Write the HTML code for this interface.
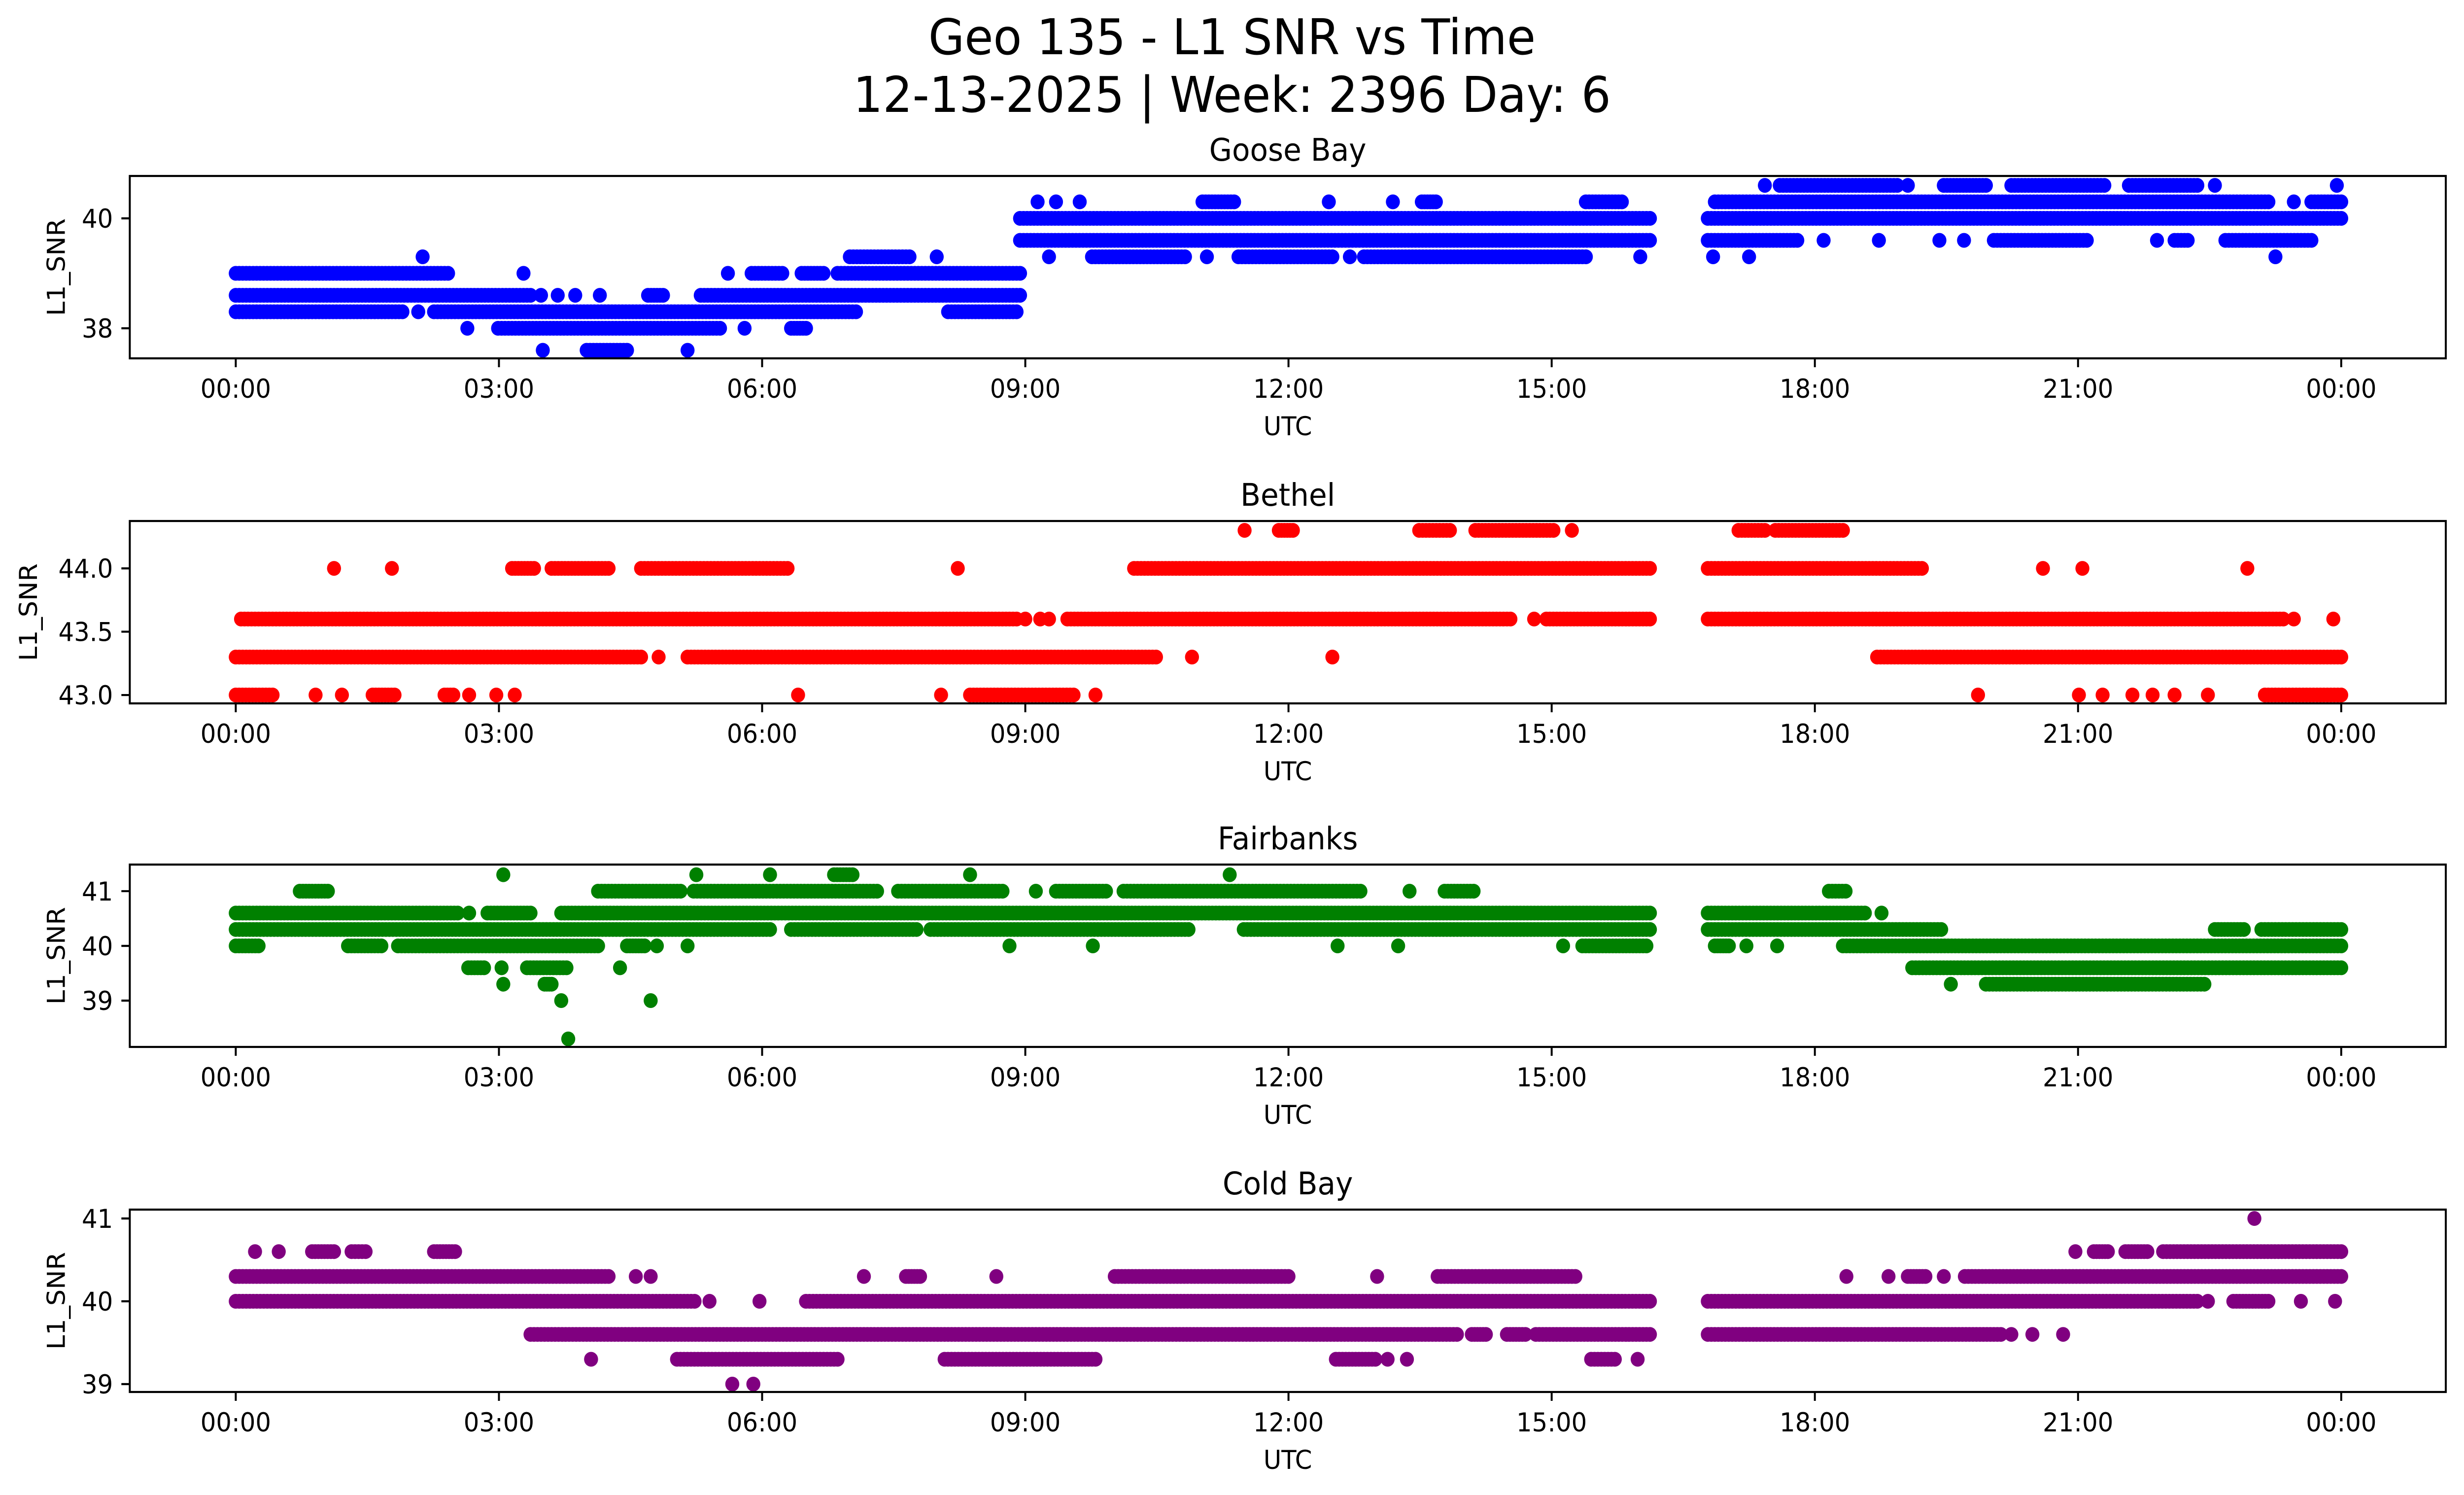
<!DOCTYPE html>
<html><head><meta charset="utf-8"><title>Geo 135 - L1 SNR vs Time</title>
<style>
html,body{margin:0;padding:0;background:#fff;overflow:hidden;width:100%;height:100%;}
svg{display:block;width:100vw;height:100vh;font-family:"DejaVu Sans","Liberation Sans",sans-serif;}
</style></head>
<body>
<svg id="chart" viewBox="0 0 5278 3033" preserveAspectRatio="none" xmlns="http://www.w3.org/2000/svg">
<rect width="5278" height="3033" fill="#fff"/>
<text x="2639" y="110" font-size="100" text-anchor="middle">Geo 135 - L1 SNR vs Time</text>
<text x="2639" y="227" font-size="100" text-anchor="middle">12-13-2025 | Week: 2396 Day: 6</text>
</svg>
<script>
// x-axis ticks (hours) and labels
const xTickHours = [0,3,6,9,12,15,18,21,24];
const xTickLabels = ["00:00","03:00","06:00","09:00","12:00","15:00","18:00","21:00","00:00"];

// station names and y ranges
const stationNames = ["Goose Bay","Bethel","Fairbanks","Cold Bay"];
const stationColors = ["#0000ff","#ff0000","#008000","#800080"];
const yDomains = [[37.453,40.771],[42.934,44.374],[38.153,41.486],[38.905,41.107]];
const yTicks = [[38,40],[43.0,43.5,44.0],[39,40,41],[39,40,41]];
const yTickLabels = [["38","40"],["43.0","43.5","44.0"],["39","40","41"],["39","40","41"]];

// runs of observations: [SNR, startHour, endHour]
const gooseBay = [
[39.0,0.0,2.42],[39.0,3.28,3.28],[39.0,5.61,5.61],[39.0,5.88,6.23],[39.0,6.45,6.7],[39.0,6.86,8.94],
[39.3,2.13,2.13],[39.3,7.0,7.68],[39.3,7.99,7.99],[39.3,9.27,9.27],[39.3,9.76,10.82],[39.3,11.07,11.07],[39.3,11.43,12.5],[39.3,12.7,12.7],[39.3,12.86,15.39],[39.3,16.01,16.01],[39.3,16.84,16.84],[39.3,17.25,17.25],[39.3,23.25,23.25],
[38.6,0.0,3.36],[38.6,3.48,3.48],[38.6,3.67,3.67],[38.6,3.87,3.87],[38.6,4.15,4.15],[38.6,4.7,4.87],[38.6,5.3,8.94],
[38.3,0.0,1.9],[38.3,2.08,2.08],[38.3,2.26,7.07],[38.3,8.12,8.9],
[38.0,2.64,2.64],[38.0,2.99,5.52],[38.0,5.8,5.8],[38.0,6.33,6.5],
[37.6,3.5,3.5],[37.6,4.0,4.46],[37.6,5.15,5.15],
[39.6,8.94,16.12],[39.6,16.78,17.8],[39.6,18.1,18.1],[39.6,18.73,18.73],[39.6,19.42,19.42],[39.6,19.7,19.7],[39.6,20.04,21.1],[39.6,21.9,21.9],[39.6,22.1,22.25],[39.6,22.68,23.66],
[40.0,8.94,16.12],[40.0,16.78,24.0],
[40.3,9.14,9.14],[40.3,9.35,9.35],[40.3,9.62,9.62],[40.3,11.02,11.38],[40.3,12.46,12.46],[40.3,13.19,13.19],[40.3,13.52,13.68],[40.3,15.39,15.8],[40.3,16.86,23.17],[40.3,23.46,23.46],[40.3,23.66,24.0],
[40.6,17.43,17.43],[40.6,17.6,18.94],[40.6,19.06,19.06],[40.6,19.47,19.95],[40.6,20.24,21.3],[40.6,21.58,22.36],[40.6,22.56,22.56],[40.6,23.95,23.95]
];
const bethel = [
[43.0,0.0,0.42],[43.0,0.91,0.91],[43.0,1.21,1.21],[43.0,1.56,1.81],[43.0,2.38,2.48],[43.0,2.66,2.66],[43.0,2.97,2.97],[43.0,3.18,3.18],[43.0,6.41,6.41],[43.0,8.04,8.04],[43.0,8.37,9.55],[43.0,9.8,9.8],[43.0,19.86,19.86],[43.0,21.01,21.01],[43.0,21.28,21.28],[43.0,21.62,21.62],[43.0,21.85,21.85],[43.0,22.1,22.1],[43.0,22.48,22.48],[43.0,23.13,24.0],
[43.3,0.0,4.62],[43.3,4.82,4.82],[43.3,5.15,10.49],[43.3,10.9,10.9],[43.3,12.5,12.5],[43.3,18.71,24.0],
[43.6,0.06,8.9],[43.6,9.0,9.0],[43.6,9.17,9.17],[43.6,9.27,9.27],[43.6,9.48,14.53],[43.6,14.8,14.8],[43.6,14.94,16.12],[43.6,16.78,23.34],[43.6,23.46,23.46],[43.6,23.91,23.91],
[44.0,1.12,1.12],[44.0,1.78,1.78],[44.0,3.15,3.4],[44.0,3.6,4.25],[44.0,4.62,6.29],[44.0,8.23,8.23],[44.0,10.24,16.12],[44.0,16.78,19.22],[44.0,20.6,20.6],[44.0,21.05,21.05],[44.0,22.93,22.93],
[44.3,11.5,11.5],[44.3,11.89,12.05],[44.3,13.49,13.84],[44.3,14.13,15.02],[44.3,15.23,15.23],[44.3,17.13,17.43],[44.3,17.55,18.32]
];
const fairbanks = [
[41.3,3.05,3.05],[41.3,5.25,5.25],[41.3,6.09,6.09],[41.3,6.82,7.03],[41.3,8.37,8.37],[41.3,11.33,11.33],
[41.0,0.73,1.05],[41.0,4.13,5.07],[41.0,5.22,7.31],[41.0,7.55,8.74],[41.0,9.12,9.12],[41.0,9.35,9.92],[41.0,10.12,12.82],[41.0,13.38,13.38],[41.0,13.78,14.11],[41.0,18.16,18.35],
[40.6,0.0,2.53],[40.6,2.66,2.66],[40.6,2.87,3.36],[40.6,3.71,16.12],[40.6,16.78,18.57],[40.6,18.76,18.76],
[40.3,0.0,6.09],[40.3,6.33,7.76],[40.3,7.92,10.86],[40.3,11.49,16.12],[40.3,16.78,19.44],[40.3,22.56,22.89],[40.3,23.09,24.0],
[40.0,0.0,0.26],[40.0,1.28,1.66],[40.0,1.85,4.13],[40.0,4.46,4.66],[40.0,4.8,4.8],[40.0,5.15,5.15],[40.0,8.82,8.82],[40.0,9.77,9.77],[40.0,12.56,12.56],[40.0,13.25,13.25],[40.0,15.13,15.13],[40.0,15.35,16.08],[40.0,16.86,17.02],[40.0,17.22,17.22],[40.0,17.57,17.57],[40.0,18.32,24.0],
[39.6,2.65,2.83],[39.6,3.03,3.03],[39.6,3.32,3.77],[39.6,4.38,4.38],[39.6,19.11,24.0],
[39.3,3.05,3.05],[39.3,3.52,3.6],[39.3,19.55,19.55],[39.3,19.95,22.44],
[39.0,3.71,3.71],[39.0,4.73,4.73],
[38.3,3.79,3.79]
];
const coldBay = [
[41.0,23.01,23.01],
[40.6,0.22,0.22],[40.6,0.49,0.49],[40.6,0.87,1.12],[40.6,1.32,1.48],[40.6,2.26,2.5],[40.6,20.97,20.97],[40.6,21.18,21.34],[40.6,21.54,21.79],[40.6,21.97,24.0],
[40.3,0.0,4.25],[40.3,4.56,4.56],[40.3,4.73,4.73],[40.3,7.16,7.16],[40.3,7.64,7.8],[40.3,8.67,8.67],[40.3,10.02,12.0],[40.3,13.01,13.01],[40.3,13.7,15.27],[40.3,18.36,18.36],[40.3,18.84,18.84],[40.3,19.06,19.26],[40.3,19.47,19.47],[40.3,19.71,24.0],
[40.0,0.0,5.23],[40.0,5.4,5.4],[40.0,5.97,5.97],[40.0,6.5,16.12],[40.0,16.78,22.36],[40.0,22.48,22.48],[40.0,22.77,23.17],[40.0,23.54,23.54],[40.0,23.93,23.93],
[39.6,3.36,13.92],[39.6,14.09,14.25],[39.6,14.49,14.7],[39.6,14.82,16.12],[39.6,16.78,20.12],[39.6,20.24,20.24],[39.6,20.48,20.48],[39.6,20.83,20.83],
[39.3,4.05,4.05],[39.3,5.03,6.86],[39.3,8.08,9.8],[39.3,12.54,12.99],[39.3,13.13,13.13],[39.3,13.35,13.35],[39.3,15.45,15.72],[39.3,15.98,15.98],
[39.0,5.66,5.66],[39.0,5.9,5.9]
];
const stationRuns = [gooseBay, bethel, fairbanks, coldBay];

// layout
const NS = "http://www.w3.org/2000/svg";
const svg = document.getElementById("chart");
const AX_L = 278, AX_R = 5239, AX_H = 370;
const AX_TOPS = [357, 1057, 1754, 2454];
const YLABEL_X = [122, 62, 122, 122];
const X0 = 505, X24 = 5015;
const SAMPLE_STEP = 0.04;
function xScale(h){ return X0 + (X24 - X0) * h / 24; }
function yScale(p, v){ const d = yDomains[p]; const top = AX_TOPS[p]; return top + AX_H * (d[1] - v) / (d[1] - d[0]); }
function mk(tag, attrs){ const e = document.createElementNS(NS, tag); for (const k in attrs) e.setAttribute(k, attrs[k]); return e; }

stationNames.forEach(function(name, p){
  const top = AX_TOPS[p], bottom = top + AX_H;
  const key = name.toLowerCase().replace(/\s+/g, "-");
  const g = mk("g", {});
  
  
  svg.appendChild(g);

  const pts = mk("g", {fill: stationColors[p]});
  
  
  g.appendChild(pts);
  stationRuns[p].forEach(function(run){
    const v = run[0], s = run[1], e = run[2];
    const n = Math.max(0, Math.ceil((e - s) / SAMPLE_STEP));
    const cy = yScale(p, v);
    for (let i = 0; i <= n; i++) {
      const t = n === 0 ? s : s + (e - s) * i / n;
      const c = mk("circle", {cx: xScale(t).toFixed(1), cy: cy.toFixed(1), r: 15});
      
      
      pts.appendChild(c);
    }
  });

  const frame = mk("rect", {x: AX_L, y: top, width: AX_R - AX_L, height: AX_H, fill: "none", stroke: "#000", "stroke-width": 4.2});
  
  
  g.appendChild(frame);

  xTickHours.forEach(function(h, i){
    const x = xScale(h);
    const t = mk("line", {x1: x, x2: x, y1: bottom, y2: bottom + 18, stroke: "#000", "stroke-width": 4.2});
    
    
    g.appendChild(t);
    const lb = mk("text", {x: x, y: bottom + 80, "font-size": 52.5, "text-anchor": "middle"});
    
    
    lb.textContent = xTickLabels[i];
    g.appendChild(lb);
  });
  yTicks[p].forEach(function(v, i){
    const y = yScale(p, v);
    const t = mk("line", {x1: AX_L - 18, x2: AX_L, y1: y, y2: y, stroke: "#000", "stroke-width": 4.2});
    
    
    g.appendChild(t);
    const lb = mk("text", {x: AX_L - 36, y: y + 19, "font-size": 52.5, "text-anchor": "end"});
    
    
    lb.textContent = yTickLabels[p][i];
    g.appendChild(lb);
  });

  const xl = mk("text", {x: (AX_L + AX_R) / 2, y: bottom + 156, "font-size": 52.5, "text-anchor": "middle"});
  
  
  xl.textContent = "UTC";
  g.appendChild(xl);

  const cy = top + AX_H / 2;
  const lx = YLABEL_X[p];
  const yl = mk("text", {x: lx, y: cy, "font-size": 52.5, "text-anchor": "middle", "dominant-baseline": "central", transform: "rotate(-90 " + lx + " " + cy + ")"});
  
  
  yl.textContent = "L1_SNR";
  g.appendChild(yl);

  const tt = mk("text", {x: (AX_L + AX_R) / 2, y: top - 31, "font-size": 63, "text-anchor": "middle"});
  
  
  tt.textContent = name;
  g.appendChild(tt);
});
</script>
</body></html>
